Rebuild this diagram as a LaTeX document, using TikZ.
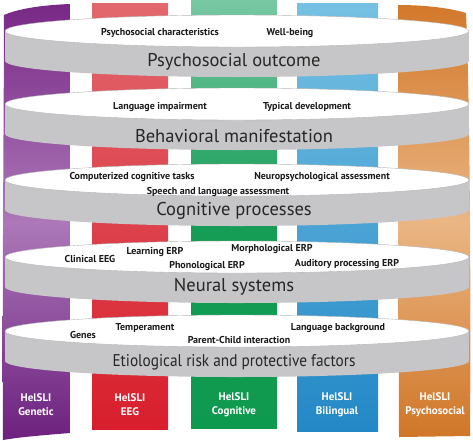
\documentclass[tikz,border=0pt]{standalone}
\usepackage{fontspec}
\usepackage{graphicx}
\setmainfont{PT Sans}
\usetikzlibrary{positioning}

\definecolor{bandgrey}{HTML}{C6C6C8}
\definecolor{rimgrey}{HTML}{B4B4B6}
\definecolor{textgrey}{HTML}{262626}

\begin{document}
\begin{tikzpicture}[x=1pt,y=-1pt,
                item/.style={font=\bfseries\fontsize{10}{10}\selectfont, text=black!90, inner sep=0pt},
                level title/.style={font=\fontsize{18.5}{19}\selectfont, text=textgrey, inner sep=0pt},
                study/.style={font=\bfseries\fontsize{11}{14}\selectfont, text=white, align=center, inner sep=0pt}]

      \useasboundingbox (0,0) rectangle (473,440);

      % pillars
      \shade[top color={rgb,255:red,120;green,40;blue,134}, bottom color={rgb,255:red,108;green,33;blue,126},
             middle color={rgb,255:red,172;green,120;blue,184}]
            (4,15) .. controls (20,8) and (45,5) .. (70,4) -- (70,433)
            .. controls (45,435) and (20,437) .. (3,440) .. controls (2,300) and (4,100) .. (4,15) -- cycle;
      \shade[top color={rgb,255:red,226;green,104;blue,110}, bottom color={rgb,255:red,216;green,30;blue,44}]
            (92,3) rectangle (168,429);
      \shade[top color={rgb,255:red,120;green,200;blue,163}, bottom color={rgb,255:red,14;green,154;blue,78},
             middle color={rgb,255:red,22;green,156;blue,86}]
            (191,0) rectangle (277,428);
      \shade[top color={rgb,255:red,118;green,193;blue,227}, bottom color={rgb,255:red,35;green,136;blue,198}]
            (297,3) rectangle (378,431);
      \shade[top color={rgb,255:red,210;green,120;blue,42}, bottom color={rgb,255:red,208;green,118;blue,40},
             middle color={rgb,255:red,234;green,182;blue,132}]
            (398,5) .. controls (425,5) and (450,8) .. (466,13) .. controls (470,100) and (471,300) .. (470,436)
            -- (399,437) -- cycle;

      % levels
      \foreach \cy in {31,104,180,257,331} {
        \fill[bandgrey] (5,\cy) rectangle (469,\cy+30);
        \fill[bandgrey] (237,\cy+30) ellipse [x radius=232pt, y radius=16pt];
        \draw[rimgrey, line width=0.4pt, fill=white] (237,\cy) ellipse [x radius=232pt, y radius=16pt];
      }

      % psychosocial outcome
      \node[item] (psyChar) at (160,33) {Psychosocial characteristics};
      \node[item] (wellBeing) at (290,33) {Well-being};
      \node[level title] (psyOut) at (234,62) {Psychosocial outcome};

      % behavioral manifestation
      \node[item] (langImp) at (160,107) {Language impairment};
      \node[item] (typDev) at (307,107) {Typical development};
      \node[level title] (behMan) at (234,136) {Behavioral manifestation};

      % cognitive processes
      \node[item] (compTask) at (132,177) {Computerized cognitive tasks};
      \node[item] (neuroAss) at (322,177) {Neuropsychological assessment};
      \node[item] (speechAss) at (218,192) {Speech and language assessment};
      \node[level title] (cogProc) at (234,211) {Cognitive processes};

      % neural systems
      \node[item] (clinEEG) at (90,259) {Clinical EEG};
      \node[item] (learnERP) at (155,252) {Learning ERP};
      \node[item] (morphERP) at (272,249) {Morphological ERP};
      \node[item] (phonERP) at (207,266) {Phonological ERP};
      \node[item] (audERP) at (347,264) {Auditory processing ERP};
      \node[level title] (neuSys) at (234,287) {Neural systems};

      % etiological factors
      \node[item] (genes) at (83,335) {Genes};
      \node[item] (temper) at (145,328) {Temperament};
      \node[item] (parChild) at (239,340) {Parent-Child interaction};
      \node[item] (langBack) at (338,328) {Language background};
      \node[level title, font=\fontsize{17}{18}\selectfont] (etiol) at (234,362)
            {\scalebox{0.9}[1]{Etiological risk and protective factors}};

      % studies
      \node[study] (genetic) at (36,405) {HelSLI\\Genetic};
      \node[study] (eeg) at (130,405) {HelSLI\\EEG};
      \node[study] (cognitive) at (234,405) {HelSLI\\Cognitive};
      \node[study] (bilingual) at (337,405) {HelSLI\\Bilingual};
      \node[study] (psychosocial) at (435,405) {HelSLI\\Psychosocial};
  \end{tikzpicture}
\end{document}
